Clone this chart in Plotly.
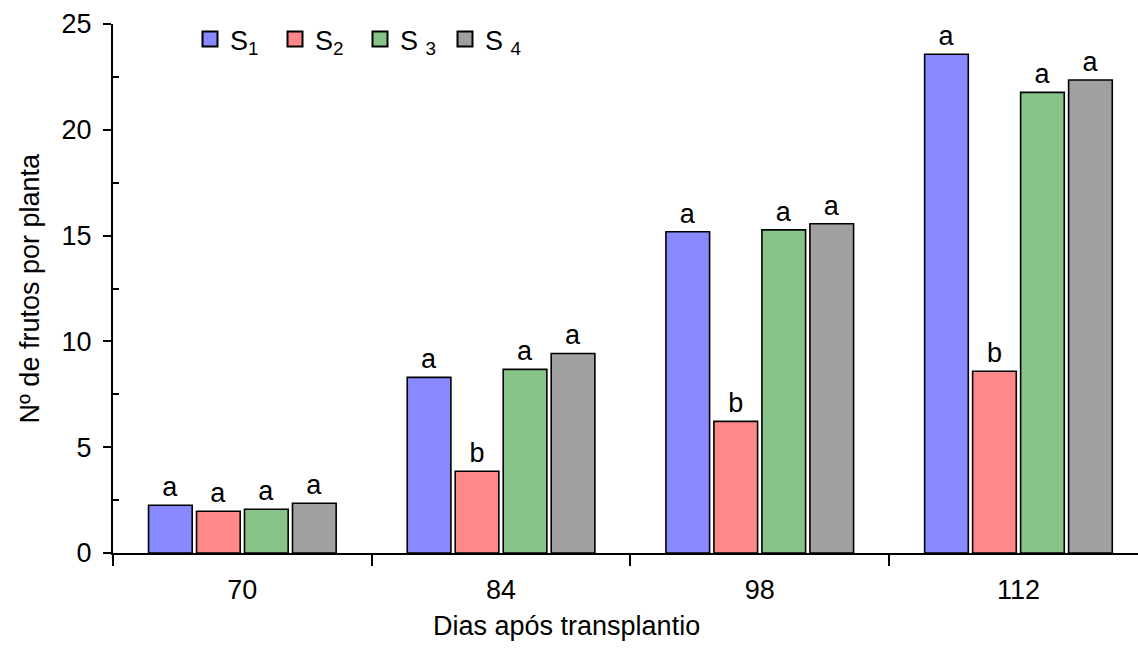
import plotly.graph_objects as go

categories = ["70", "84", "98", "112"]
series_names = ["S<sub>1</sub>", "S<sub>2</sub>", "S <sub>3</sub>", "S <sub>4</sub>"]
s1 = [2.26, 8.30, 15.18, 23.57]
s2 = [1.97, 3.86, 6.22, 8.59]
s3 = [2.07, 8.68, 15.27, 21.77]
s4 = [2.35, 9.43, 15.56, 22.35]
letters_s1 = ["a", "a", "a", "a"]
letters_s2 = ["a", "b", "b", "b"]
letters_s3 = ["a", "a", "a", "a"]
letters_s4 = ["a", "a", "a", "a"]

colors = ["#8888ff", "#ff8888", "#88c488", "#a0a0a0"]
FONT = "Liberation Sans, Arial, sans-serif"
FS = 27

fig = go.Figure()
for name, vals, letters, col in zip(series_names, [s1, s2, s3, s4],
                                    [letters_s1, letters_s2, letters_s3, letters_s4], colors):
    fig.add_trace(go.Bar(
        x=categories, y=vals, name=name, text=letters, showlegend=False,
        textposition="outside", constraintext="none", cliponaxis=False,
        textfont=dict(size=FS, color="black", family=FONT),
        marker=dict(color=col, line=dict(color="black", width=1.6)),
    ))
# legend entries (square swatches)
for name, col in zip(series_names, colors):
    fig.add_trace(go.Scatter(
        x=[None], y=[None], mode="markers", name=name,
        marker=dict(symbol="square", size=15, color=col, line=dict(color="black", width=2)),
    ))

W, H = 1138, 662
L, R, T, B = 113, 0, 24, 108.5
PW, PH = W - L - R, H - T - B
fig.update_layout(
    width=W, height=H,
    margin=dict(l=L, r=R, t=T, b=B),
    barmode="group", bargap=0.258, bargroupgap=0.09,
    plot_bgcolor="white", paper_bgcolor="white",
    font=dict(family=FONT, size=FS, color="black"),
    showlegend=True,
    legend=dict(orientation="h", x=(190 - L) / PW, y=1.017, xanchor="left", yanchor="top",
                font=dict(size=FS, family=FONT), bgcolor="rgba(0,0,0,0)",
                itemwidth=30, entrywidth=40, entrywidthmode="pixels",
                traceorder="normal", tracegroupgap=0),
)
fig.update_xaxes(
    type="category", range=[-0.5, -0.5 + PW / 258.7],
    showline=True, linecolor="black", linewidth=2,
    ticks="outside", tickson="boundaries", ticklen=11, tickwidth=2, tickcolor="black",
    ticklabelstandoff=12,
    tickfont=dict(size=FS, family=FONT), showgrid=False, zeroline=False,
)
fig.update_yaxes(
    range=[0, 25], tickvals=[0, 5, 10, 15, 20, 25],
    showline=True, linecolor="black", linewidth=2,
    ticks="outside", ticklen=8, tickwidth=2, tickcolor="black",
    ticklabelstandoff=6,
    tickfont=dict(size=FS, family=FONT), showgrid=False, zeroline=False,
    minor=dict(tickvals=[2.5, 7.5, 12.5, 17.5, 22.5], ticks="inside", ticklen=6,
               tickwidth=1.5, tickcolor="black", showgrid=False),
)
fig.add_annotation(
    text="Nº de frutos por planta", xref="paper", yref="paper",
    x=(29 - L) / PW, y=0.5, textangle=-90,
    xanchor="center", yanchor="middle", showarrow=False,
    font=dict(size=FS, family=FONT, color="black"),
)
fig.add_annotation(
    text="Dias após transplantio", xref="paper", yref="paper",
    x=(566 - L) / PW, y=-(627 - (H - B)) / PH,
    xanchor="center", yanchor="middle", showarrow=False,
    font=dict(size=FS, family=FONT, color="black"),
)
fig.write_html("out.html")
